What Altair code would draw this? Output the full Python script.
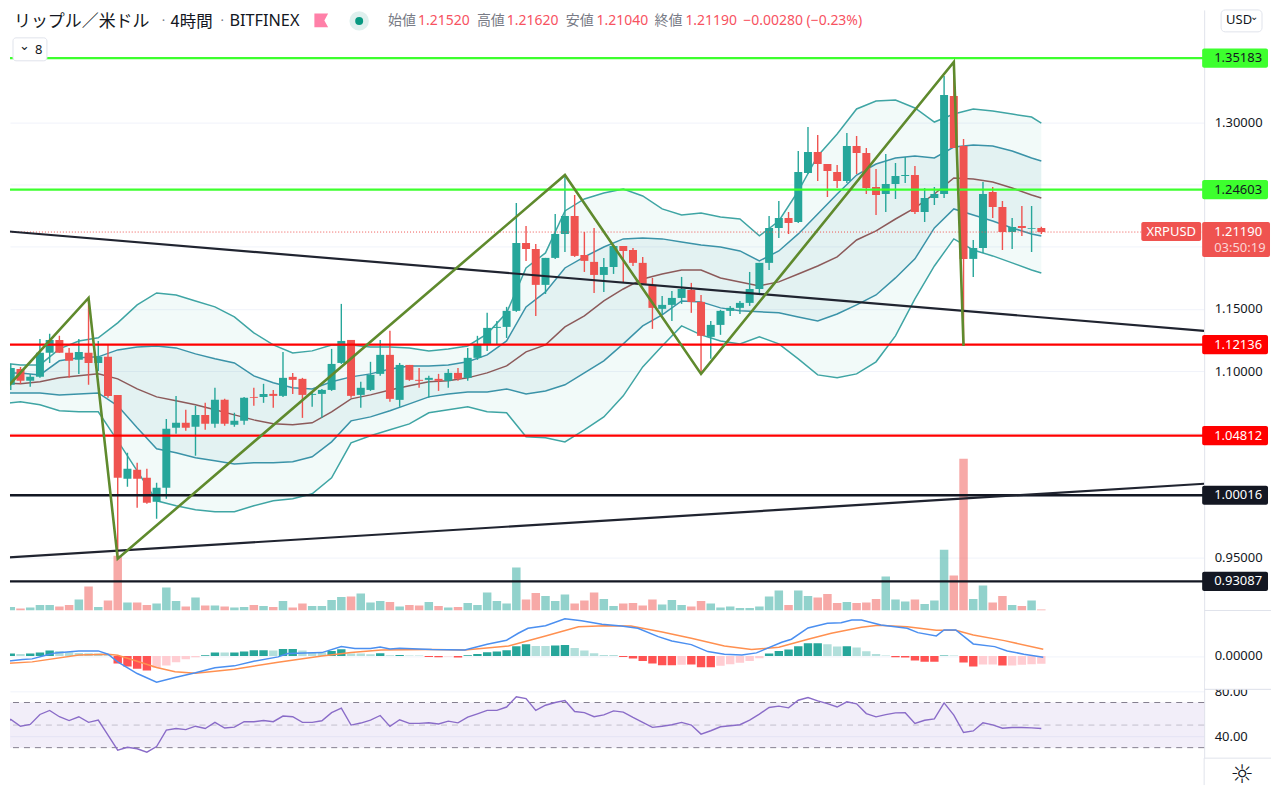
import altair as alt
import pandas as pd

# ---------- candles (index 0 = 27th, one bar every 4 hours) ----------
bar_start = -8
opens = [1.0962,1.0890,1.1018,1.0922,1.0954,1.1147,1.1251,1.1147,
 1.1091,1.1147,1.1066,1.1115,1.0809,1.0134,1.0206,1.0142,0.9949,1.0062,
 1.0544,1.0584,1.0552,1.0648,1.0576,1.0769,1.0568,1.0600,1.0793,1.0793,
 1.0817,1.0801,1.0954,1.0938,1.0809,1.0817,1.0849,1.1066,1.1251,1.0809,
 1.0849,1.0978,1.1131,1.0769,1.1050,1.0930,1.0930,1.0938,1.0922,1.0986,
 1.0946,1.1107,1.1219,1.1348,1.1356,1.1485,1.2031,1.1983,1.1694,1.1911,
 1.2104,1.2248,1.1935,1.1879,1.1774,1.1838,1.2007,1.1975,1.1871,1.1694,
 1.1501,1.1533,1.1589,1.1653,1.1557,1.1276,1.1372,1.1485,1.1509,1.1549,
 1.1661,1.1871,1.2152,1.2232,1.2200,1.2594,1.2763,1.2666,1.2602,1.2530,
 1.2811,1.2755,1.2482,1.2425,1.2506,1.2570,1.2578,1.2281,1.2393,1.2425,
 1.3213,1.2811,1.1903,1.1991,1.2441,1.2321,1.2120,1.2168,1.2144,1.2152]
highs = [1.0978,1.1058,1.1034,1.0978,1.1259,1.1300,1.1284,1.1187,
 1.1259,1.1589,1.1243,1.1211,1.0809,1.0343,1.0263,1.0214,1.0102,1.0616,
 1.0801,1.0689,1.0721,1.0745,1.0866,1.0777,1.0665,1.0793,1.0866,1.0898,
 1.0849,1.1155,1.0986,1.0946,1.0841,1.0857,1.1179,1.1541,1.1251,1.0914,
 1.1075,1.1251,1.1324,1.1066,1.1050,1.1026,1.0962,1.0978,1.1018,1.1026,
 1.1187,1.1284,1.1469,1.1404,1.1517,1.2353,1.2168,1.2023,1.1911,1.2264,
 1.2570,1.2417,1.2120,1.2152,1.1911,1.2015,1.2007,1.1991,1.1919,1.1750,
 1.1605,1.1645,1.1758,1.1710,1.1613,1.1404,1.1493,1.1525,1.1565,1.1798,
 1.1871,1.2248,1.2369,1.2281,1.2771,1.2964,1.2900,1.2666,1.2658,1.2916,
 1.2892,1.2795,1.2626,1.2747,1.2675,1.2723,1.2650,1.2473,1.2482,1.3374,
 1.3479,1.2867,1.2055,1.2522,1.2482,1.2369,1.2232,1.2329,1.2329,1.2162]
lows = [1.0882,1.0849,1.0898,1.0874,1.0946,1.1066,1.1147,1.0946,
 1.0978,1.0890,1.1002,1.0785,0.9491,1.0070,0.9901,0.9933,0.9812,0.9973,
 1.0496,1.0520,1.0319,1.0528,1.0544,1.0560,1.0552,1.0568,1.0721,1.0745,
 1.0705,1.0793,1.0817,1.0624,1.0713,1.0624,1.0841,1.1058,1.0785,1.0705,
 1.0841,1.0962,1.0753,1.0713,1.0922,1.0866,1.0785,1.0841,1.0866,1.0922,
 1.0922,1.1091,1.1163,1.1219,1.1267,1.1477,1.1887,1.1444,1.1621,1.1903,
 1.1959,1.1919,1.1798,1.1629,1.1637,1.1782,1.1710,1.1846,1.1694,1.1340,
 1.1460,1.1404,1.1541,1.1469,1.0978,1.1099,1.1292,1.1444,1.1460,1.1525,
 1.1621,1.1814,1.2072,1.2104,1.2192,1.2586,1.2530,1.2401,1.2473,1.2514,
 1.2586,1.2425,1.2256,1.2281,1.2385,1.2514,1.2264,1.2200,1.2337,1.2393,
 1.2795,1.1203,1.1758,1.1951,1.2232,1.1975,1.1983,1.2088,1.1959,1.2104]
closes = [1.0898,1.1026,1.0922,1.0954,1.1147,1.1251,1.1147,1.1083,
 1.1155,1.1066,1.1115,1.0801,1.0142,1.0214,1.0134,0.9941,1.0062,1.0536,
 1.0584,1.0544,1.0648,1.0576,1.0769,1.0576,1.0600,1.0785,1.0785,1.0817,
 1.0801,1.0946,1.0930,1.0809,1.0817,1.0849,1.1058,1.1243,1.0801,1.0866,
 1.0970,1.1131,1.0777,1.1050,1.0930,1.0922,1.0946,1.0922,1.0986,1.0938,
 1.1107,1.1219,1.1348,1.1356,1.1485,1.2031,1.1983,1.1694,1.1911,1.2104,
 1.2248,1.1927,1.1887,1.1774,1.1838,1.2007,1.1967,1.1871,1.1702,1.1509,
 1.1533,1.1589,1.1661,1.1557,1.1284,1.1372,1.1485,1.1509,1.1549,1.1661,
 1.1871,1.2152,1.2232,1.2192,1.2602,1.2763,1.2666,1.2610,1.2530,1.2811,
 1.2755,1.2473,1.2417,1.2506,1.2570,1.2578,1.2281,1.2393,1.2425,1.3221,
 1.2795,1.1903,1.1991,1.2425,1.2321,1.2120,1.2160,1.2152,1.2150,1.2119]
volumes = [2,3.5,2,3,5.5,5.5,4,5.5,11,24,3.5,10,55,8,8,5.5,7,23,9.5,4,13,5,5,4,3,3.5,5.5,4.5,3.5,9.5,3,7,4.5,4.5,
 10.5,13.5,14,17,8,9.5,8.5,4,5.5,5,8.5,4.5,3,3.5,7.5,5.5,18,9.5,7,43,11,17.5,14.5,9.5,16,7,10,18,11.5,4.5,7,7.5,5,
 11,6,10.5,5.5,4,9.5,7,3,4,2.5,2.5,4,14,20,5.5,20,14.5,13,16.5,7.5,8.5,7.5,8,11.5,34,11,9,11,6.5,10,61,35,152,11.5,25,8,14.5,5.5,4.5,10,1]

# ---------- Bollinger bands, read at every second bar ----------
band_x = [-8,-6,-4,-2,0,2,4,6,8,10,12,14,16,18,20,22,24,26,28,30,32,34,36,38,40,42,44,46,48,50,52,54,56,58,60,62,64,66,68,70,72,74,76,78,80,82,84,86,88,90,92,94,96,98,99]
band_uo = [1.1066,1.1050,1.1050,1.1179,1.1243,1.1268,1.1388,1.1533,1.1629,1.1613,1.1565,1.1517,1.1436,1.1308,1.1211,1.1147,1.1163,1.1211,1.1211,1.1195,1.1195,1.1187,1.1163,1.1179,1.1203,1.1300,1.1469,1.1830,1.1951,1.2289,1.2385,1.2433,1.2465,1.2409,1.2305,1.2256,1.2272,1.2240,1.2224,1.2088,1.2208,1.2449,1.2731,1.2908,1.3109,1.3173,1.3181,1.3117,1.3004,1.3068,1.3109,1.3093,1.3068,1.3044,1.2996]
band_ui = [1.0986,1.0986,1.0970,1.1083,1.1107,1.1115,1.1171,1.1195,1.1203,1.1187,1.1139,1.1099,1.1066,1.0962,1.0906,1.0866,1.0857,1.0914,1.0954,1.0978,1.1018,1.1042,1.1042,1.1050,1.1075,1.1131,1.1243,1.1517,1.1637,1.1830,1.1919,1.1999,1.2064,1.2072,1.2064,1.2039,1.2015,1.1999,1.1967,1.1887,1.1967,1.2104,1.2264,1.2425,1.2578,1.2666,1.2715,1.2731,1.2715,1.2803,1.2819,1.2811,1.2771,1.2715,1.2691]
band_mid = [1.0906,1.0898,1.0914,1.0946,1.0962,1.0978,1.0938,1.0857,1.0793,1.0761,1.0729,1.0689,1.0648,1.0608,1.0576,1.0568,1.0584,1.0673,1.0777,1.0809,1.0849,1.0882,1.0914,1.0922,1.0946,1.0986,1.1042,1.1155,1.1211,1.1356,1.1444,1.1565,1.1661,1.1742,1.1782,1.1814,1.1814,1.1750,1.1718,1.1686,1.1718,1.1782,1.1846,1.1919,1.2055,1.2128,1.2224,1.2313,1.2425,1.2554,1.2546,1.2522,1.2473,1.2417,1.2393]
band_li = [1.0825,1.0825,1.0825,1.0809,1.0817,1.0825,1.0721,1.0544,1.0375,1.0343,1.0303,1.0279,1.0254,1.0263,1.0263,1.0271,1.0311,1.0431,1.0600,1.0632,1.0681,1.0737,1.0793,1.0817,1.0833,1.0833,1.0857,1.0817,1.0841,1.0890,1.0986,1.1083,1.1219,1.1364,1.1452,1.1565,1.1557,1.1509,1.1485,1.1477,1.1469,1.1436,1.1404,1.1460,1.1533,1.1613,1.1750,1.1903,1.2152,1.2305,1.2256,1.2208,1.2152,1.2104,1.2088]
band_lo = [1.0737,1.0753,1.0729,1.0681,1.0673,1.0673,1.0439,1.0198,0.9957,0.9917,0.9885,0.9869,0.9869,0.9917,0.9957,0.9973,1.0013,1.0142,1.0423,1.0480,1.0528,1.0576,1.0665,1.0689,1.0713,1.0673,1.0665,1.0472,1.0464,1.0431,1.0528,1.0632,1.0801,1.1034,1.1203,1.1364,1.1292,1.1243,1.1219,1.1276,1.1219,1.1099,1.0970,1.0946,1.0978,1.1075,1.1284,1.1581,1.1846,1.2064,1.1975,1.1927,1.1871,1.1814,1.1790]

# ---------- drawings ----------
zigzag_x = [-7.9,1,4,50,64,90,91]
zigzag_p = [1.0825,1.1589,0.9491,1.2578,1.0978,1.3487,1.1203]
trend_x = [-7.9,115.75]
trend_down = [1.2128,1.1324]
trend_up = [0.9499,1.0094]
level_green = [1.35183,1.24603]
level_red = [1.12136,1.04812]
level_black = [1.00016,0.93087]
last_price = 1.2119
price_ticks = [0.95,1.0,1.05,1.1,1.15,1.2,1.25,1.3]
price_labelled = [0.95,1.1,1.15,1.3]

# ---------- MACD ----------
hist = [1.3,2.3,2,2.3,3.3,5.3,5,3.7,3,2.7,2.3,.7,-7.7,-10.7,-13,-14.7,-12,-9.7,-6.3,-3.3,-1.3,.7,3.3,3.3,3.4,4.3,5.7,5.7,5.3,7,7,5.3,3.7,3.3,5,6.7,2.3,2.3,1.7,2.7,.7,1,.3,.3,-1,
 -1.3,-.5,-1.5,.7,2,3.7,4.3,5.7,9.7,11.7,10,10,10.3,11,8,5.3,2.7,1,1,-1,-2.7,-5,-7.7,-9.3,-9.3,-9,-8.7,-11.3,-11.3,-10,-8.3,-7,-5,-2.3,2.3,5,6.3,9.7,12.7,12.7,11.7,9.3,9.7,8.3,
 4.7,2,.3,-1.3,-1.7,-4.7,-6,-6,.5,.5,-6.7,-10.7,-8.7,-8.7,-9.7,-9.7,-9,-8.3,-8]
hist_kind = list("GGgGGGgggggg" "RRRR" "rrrrr" "GG" "g" "GGGG" "g" "GG" "ggg" "GG" "ggg" "GgGgg" "RRrR"
                 "GGGGGGG" "gg" "GG" "ggggg" "RRRRRR" "r" "RRR" "rrrrr" "GGGGGG" "gg" "G" "gggg"
                 "RRRRR" "G" "g" "RR" "rr" "R" "rrrr")
macd_x = [-7.9,-5.8,-4.8,-3.4,-2.4,0,2,3,4,6,8,9.9,12,14,16,18,20.5,21.5,25,27,28.4,30,31,32,33,36.3,39.7,42,44,45.2,46.2,48,50,51.7,53.8,55.8,57.5,59.6,61,63,64.7,66.4,68.2,69.7,72.3,73.3,75,77,78.4,79.5,80.5,82.5,85.2,86.3,88.2,89,90.2,92,94.2,95.5,97.2,99.2]
macd_v = [-6,-3.7,-3,.7,3,5,5,1.7,-6,-17.7,-26.3,-21.7,-17,-12,-10,-5.3,-1,2.3,3.3,9.3,7.3,7.3,9,7,7.7,6.3,6,11.7,15.7,22.7,27.7,30.3,37.3,35.3,31.7,30,27.7,19.3,15,11.3,4.3,1.7,1,3,13.7,16.7,28,32.7,33.3,36,36,31,27.7,23.3,20,26,26,12,9.3,5,1.7,-1.3]
signal_x = [-7.9,-4.8,0,3,4,6,8,9.9,12,16,20.5,25,28,31.1,36.3,39.7,44.2,48,51.4,54.1,56.8,60,63,66.4,69.2,72,75,77.4,80.5,82.2,85.2,88.2,90.2,92,95.2,99.2]
signal_v = [-7.7,-6,1,1.7,.7,-5.3,-11.7,-16,-17.3,-13.3,-6.3,0,3.3,6,6.3,6,10,20,29.3,30.3,30,24,17.7,10,6.3,8.7,16.7,22.7,28.7,30.7,29.3,25.7,25.7,21,15.3,6.7]

# ---------- RSI ----------
rsi = [48.5,55,49,50.6,59.4,63,57.4,54,57.4,52.4,54.4,41,27.7,30.3,29,26,31,45.6,47,46,49,47,52.4,47.4,48.2,53,53,54,53,58,57.4,52.4,52.4,53.8,61,65,50,51.8,54.4,58.5,48.8,54.7,51.5,51.5,52,
 51,53.5,52,57,60,63,63,66,75,73.5,63,67.6,70,71.8,62,61,57.4,59,62.6,61.5,56.8,52.4,48,49,50.3,52.4,50,42,45,48.5,49.4,50.3,54.4,59.7,65.6,66.8,65.3,72,74.4,71.5,69,66,70.6,68.8,
 60.2,57.3,59.3,60.8,61,51.4,54.3,55.5,69.7,58.8,43.4,44.8,52,50.2,47.2,47.8,47.8,47.5,47]
rsi_levels = [70,50,30]

# ---------- axes ----------
x_ticks = [0,12,30,42,54,72,84,96,114]
x_labels = ["27","29","11月","3","5","8","10","12","15"]

# ---------- layout constants ----------
W, H_MAIN, H_MACD, H_RSI = 1197, 602, 79, 69
X_DOM = [-7.08, 115.75]
P_DOM = [0.90745, 1.39059]
V_DOM = [0, 602]
M_DOM = [-33.5, 45.5]
R_DOM = [20.7, 81.7]
GRID, EDGE, INK = "#f0f3fa", "#e0e3eb", "#131722"
UP, DOWN = "#26a69a", "#ef5350"
LATIN = "Noto Sans"
CJK = "Noto Sans CJK JP"

idx = list(range(bar_start, bar_start + len(opens)))
candles = pd.DataFrame({"i": idx, "o": opens, "h": highs, "l": lows, "c": closes, "v": volumes,
                        "dir": ["up" if c >= o else "down" for o, c in zip(opens, closes)]})
bands = pd.DataFrame({"i": band_x, "uo": band_uo, "ui": band_ui, "m": band_mid, "li": band_li, "lo": band_lo})
one = pd.DataFrame({"a": [0]})

xs = alt.Scale(domain=X_DOM, nice=False, zero=False, padding=0)
X = alt.X("i:Q", scale=xs, axis=None)
def PY(f):
    return alt.Y(f, type="quantitative", scale=alt.Scale(domain=P_DOM, nice=False, zero=False), axis=None)
dir_color = alt.Color("dir:N", scale=alt.Scale(domain=["up", "down"], range=[UP, DOWN]), legend=None)

def x_axis(labels=False):
    kw = dict(values=x_ticks, grid=True, gridColor=GRID, gridWidth=1, ticks=False, domain=True,
              domainColor=EDGE, title=None, labels=labels)
    if labels:
        expr = "{" + ",".join(f"'{t}':'{l}'" for t, l in zip(x_ticks, x_labels)) + "}[datum.value]"
        kw.update(labelExpr=expr, labelFont=CJK, labelFontSize=13, labelColor=INK, labelPadding=9, labelAngle=0)
    return alt.Axis(**kw)

def y_axis(values, fmt, **extra):
    return alt.Axis(orient="right", values=values, format=fmt, grid=True, gridColor=GRID, gridWidth=1, ticks=False,
                    domain=True, domainColor=EDGE, title=None, labelFont=LATIN, labelFontSize=13,
                    labelColor=INK, labelPadding=10, **extra)

def note(text, x, y, size=13, color=INK, font=LATIN, align="left", weight=400):
    return alt.Chart(one).mark_text(text=text, align=align, baseline="middle", fontSize=size, color=color,
                                    font=font, fontWeight=weight).encode(x=alt.value(x - 8), y=alt.value(y - 8))

def line(df, field, color, width=1.5):
    return alt.Chart(df).mark_line(color=color, strokeWidth=width, clip=True, interpolate="linear").encode(X, PY(field))

# ---------- main pane ----------
label_test = "||".join(f"abs(datum.value-{v})<0.001" for v in price_labelled)
base_axis = alt.Chart(pd.DataFrame({"i": [0, 1], "p": [1.0, 1.3]})).mark_point(opacity=0).encode(
    alt.X("i:Q", scale=xs, axis=x_axis()),
    alt.Y("p:Q", scale=alt.Scale(domain=P_DOM, nice=False, zero=False),
          axis=y_axis(price_ticks, ".5f", labelExpr=f"({label_test})?datum.label:''")))

vol = alt.Chart(candles).mark_bar(size=8.5, opacity=0.5, clip=True).encode(
    X, alt.Y("v:Q", scale=alt.Scale(domain=V_DOM, nice=False, zero=False), axis=None), dir_color)

fill_out = alt.Chart(bands).mark_area(color="#26a69a", opacity=0.06, clip=True).encode(X, PY("lo"), alt.Y2("uo"))
fill_in = alt.Chart(bands).mark_area(color="#2a8f9e", opacity=0.07, clip=True).encode(X, PY("li"), alt.Y2("ui"))
lines_band = [line(bands, "uo", "#3fa5a4"), line(bands, "lo", "#3fa5a4"),
              line(bands, "ui", "#3b93a8"), line(bands, "li", "#3b93a8"), line(bands, "m", "#8c5a5a")]

wicks = alt.Chart(candles).mark_rule(strokeWidth=1.4, clip=True).encode(X, PY("l"), alt.Y2("h"), dir_color)
bodies = alt.Chart(candles).mark_bar(size=8, clip=True).encode(X, PY("o"), alt.Y2("c"), dir_color)

dotted = alt.Chart(pd.DataFrame({"p": [last_price]})).mark_rule(color=DOWN, strokeDash=[1, 2], strokeWidth=1).encode(PY("p"))

def hlines(vals, color):
    return alt.Chart(pd.DataFrame({"p": vals})).mark_rule(color=color, strokeWidth=2.4).encode(PY("p"))

def tline(vals):
    return line(pd.DataFrame({"i": trend_x, "p": vals}), "p", "#202430", 2.2)

zig = line(pd.DataFrame({"i": zigzag_x, "p": zigzag_p}), "p", "#5f8a2d", 2.6)

TAG_H = 0.0077
def tags(vals, color, text_color):
    df = pd.DataFrame({"p": vals, "t": [v + TAG_H for v in vals], "b": [v - TAG_H for v in vals],
                       "s": [f"{v:.5f}" for v in vals]})
    r = alt.Chart(df).mark_rect(color=color, cornerRadius=2).encode(
        x=alt.value(W - 2), x2=alt.value(W + 64), y=PY("t"), y2=alt.Y2("b"))
    t = alt.Chart(df).mark_text(align="left", font=LATIN, fontSize=13, color=text_color).encode(
        x=alt.value(W + 10), y=PY("p"), text="s:N")
    return [r, t]

last_df = pd.DataFrame({"p": [last_price], "t": [last_price + 0.0081], "b": [last_price - 0.0200],
                        "t2": [last_price + 0.0081], "b2": [last_price - 0.0072]})
last_tag = alt.Chart(last_df).mark_rect(color=DOWN, cornerRadius=2).encode(
    x=alt.value(W - 2), x2=alt.value(W + 66), y=PY("t"), y2=alt.Y2("b"))
sym_tag = alt.Chart(last_df).mark_rect(color=DOWN, cornerRadius=2).encode(
    x=alt.value(W - 63), x2=alt.value(W - 3), y=PY("t2"), y2=alt.Y2("b2"))

chip = alt.Chart(one).mark_rect(fill="white", stroke=EDGE, strokeWidth=1, cornerRadius=3).encode(
    x=alt.value(3), x2=alt.value(37), y=alt.value(28), y2=alt.value(51))
usd = alt.Chart(one).mark_rect(fill="white", stroke=EDGE, strokeWidth=1, cornerRadius=4).encode(
    x=alt.value(1214), x2=alt.value(1255), y=alt.value(0), y2=alt.value(22))
flag = alt.Chart(one).mark_point(shape="M-1,-1 L1,-1 L0.45,0 L1,1 L-1,1 Z", filled=True, color="#ff80a8", opacity=1, size=190).encode(
    x=alt.value(312), y=alt.value(10.5))
halo = alt.Chart(one).mark_point(shape="circle", filled=True, color="#dff0ee", opacity=1, size=380).encode(
    x=alt.value(350), y=alt.value(11))
dot = alt.Chart(one).mark_point(shape="circle", filled=True, color="#089981", opacity=1, size=64).encode(
    x=alt.value(350), y=alt.value(11))

GREY, RED = "#787b86", "#f7525f"
header = [
    note("リップル／米ドル", 12, 20, 17, INK, CJK),
    note("·", 160, 19, 13, GREY), note("4時間", 169, 20, 16.5, INK, CJK),
    note("·", 219, 19, 13, GREY), note("BITFINEX", 228, 19, 16.3, INK),
    note("始値", 387, 19, 14, GREY, CJK), note("1.21520", 417, 19, 14, RED),
    note("高値", 476, 19, 14, GREY, CJK), note("1.21620", 506, 19, 14, RED),
    note("安値", 565, 19, 14, GREY, CJK), note("1.21040", 596, 19, 14, RED),
    note("終値", 654, 19, 14, GREY, CJK), note("1.21190", 685, 19, 14, RED),
    note("−0.00280 (−0.23%)", 743, 19, 14, RED),
    note("⌄", 17, 44, 13, INK, "DejaVu Sans"), note("8", 33, 48, 13, INK),
    note("USD", 1227, 18, 13, INK), note("⌄", 1251, 15, 10, INK, "DejaVu Sans"),
    note("XRPUSD", 1172, 231, 13, "white", LATIN, "center"),
    note("1.21190", 1215, 231, 13, "white"),
    note("03:50:19", 1215, 247, 13, "#fbd5d5"),
]
right_edge = alt.Chart(one).mark_rule(color=EDGE).encode(
    x=alt.value(W), x2=alt.value(W + 67), y=alt.value(H_MAIN))

main = alt.layer(
    base_axis, vol, fill_out, fill_in, *lines_band, wicks, bodies, dotted,
    hlines(level_green, "#3dff2e"), hlines(level_red, "#ff0000"), hlines(level_black, INK),
    tline(trend_down), tline(trend_up), zig,
    *tags(level_green, "#3dff2e", INK), *tags(level_red, "#ff0000", "white"), *tags(level_black, INK, "white"),
    last_tag, sym_tag, chip, usd, flag, halo, dot, *header, right_edge,
).resolve_scale(y="independent").properties(width=W, height=H_MAIN)

# ---------- MACD pane ----------
macd_hist = pd.DataFrame({"i": idx, "h": hist, "k": hist_kind, "z": [0] * len(hist)})
msc = alt.Scale(domain=M_DOM, nice=False, zero=False)
macd_axis = alt.Chart(pd.DataFrame({"i": [0], "v": [0]})).mark_point(opacity=0).encode(
    alt.X("i:Q", scale=xs, axis=x_axis()), alt.Y("v:Q", scale=msc, axis=y_axis([0], ".5f")))
hist_bars = alt.Chart(macd_hist).mark_bar(size=8.4, clip=True).encode(
    X, alt.Y("z:Q", scale=msc, axis=None), alt.Y2("h"),
    alt.Color("k:N", scale=alt.Scale(domain=["G", "g", "R", "r"], range=["#26a69a", "#b2dfdb", "#ff5252", "#ffcdd2"]), legend=None))
macd_line = alt.Chart(pd.DataFrame({"i": macd_x, "v": macd_v})).mark_line(color="#4b8ff0", strokeWidth=1.5, clip=True).encode(
    X, alt.Y("v:Q", scale=msc, axis=None))
signal_line = alt.Chart(pd.DataFrame({"i": signal_x, "v": signal_v})).mark_line(color="#ff9050", strokeWidth=1.5, clip=True).encode(
    X, alt.Y("v:Q", scale=msc, axis=None))
edge2 = alt.Chart(one).mark_rule(color=EDGE).encode(x=alt.value(W), x2=alt.value(W + 67), y=alt.value(H_MACD))
macd = alt.layer(macd_axis, hist_bars, signal_line, macd_line, edge2).resolve_scale(y="independent").properties(width=W, height=H_MACD)

# ---------- RSI pane ----------
rsc = alt.Scale(domain=R_DOM, nice=False, zero=False)
rsi_band = alt.Chart(pd.DataFrame({"a": [30], "b": [70]})).mark_rect(color="#7e57c2", opacity=0.1).encode(
    x=alt.value(0), x2=alt.value(W), y=alt.Y("a:Q", scale=rsc, axis=None), y2=alt.Y2("b"))
rsi_axis = alt.Chart(pd.DataFrame({"i": [0], "p": [40]})).mark_point(opacity=0).encode(
    alt.X("i:Q", scale=xs, axis=x_axis(True)), alt.Y("p:Q", scale=rsc, axis=y_axis([40, 80], ".2f")))
rsi_rules = alt.Chart(pd.DataFrame({"p": rsi_levels, "k": ["a", "b", "a"]})).mark_rule(strokeDash=[6, 5], strokeWidth=1).encode(
    alt.Y("p:Q", scale=rsc, axis=None),
    alt.Color("k:N", scale=alt.Scale(domain=["a", "b"], range=["#85808f", "#c3bfcc"]), legend=None))
rsi_line = alt.Chart(pd.DataFrame({"i": idx, "v": rsi})).mark_line(color="#8a6cc8", strokeWidth=1.4, clip=True).encode(
    X, alt.Y("v:Q", scale=rsc, axis=None))
cover = alt.Chart(one).mark_rect(color="white").encode(
    x=alt.value(W + 1), x2=alt.value(W + 67), y=alt.value(-8), y2=alt.value(0))
edge3 = alt.Chart(one).mark_rule(color=EDGE).encode(x=alt.value(W), x2=alt.value(W + 67), y=alt.value(0))
edge4 = alt.Chart(one).mark_rule(color=EDGE).encode(x=alt.value(W), x2=alt.value(W + 67), y=alt.value(H_RSI))
edge5 = alt.Chart(one).mark_rule(color=EDGE).encode(x=alt.value(W), y=alt.value(H_RSI), y2=alt.value(H_RSI + 27))
gear = alt.Chart(one).mark_text(text="☼", font="DejaVu Sans", fontSize=26, color=INK).encode(
    x=alt.value(1243 - 8), y=alt.value(775 - 689 - 8 + 8))
rsi_pane = alt.layer(rsi_axis, rsi_band, rsi_rules, rsi_line, cover, edge3, edge4, edge5, gear).resolve_scale(y="independent").properties(width=W, height=H_RSI)

chart = alt.vconcat(main, macd, rsi_pane, spacing=0, bounds="flush").resolve_scale(color="independent").properties(
    padding=0, background="white").configure_view(stroke=None)

chart.save("out.html", embed_options={"renderer": "svg", "actions": False})
